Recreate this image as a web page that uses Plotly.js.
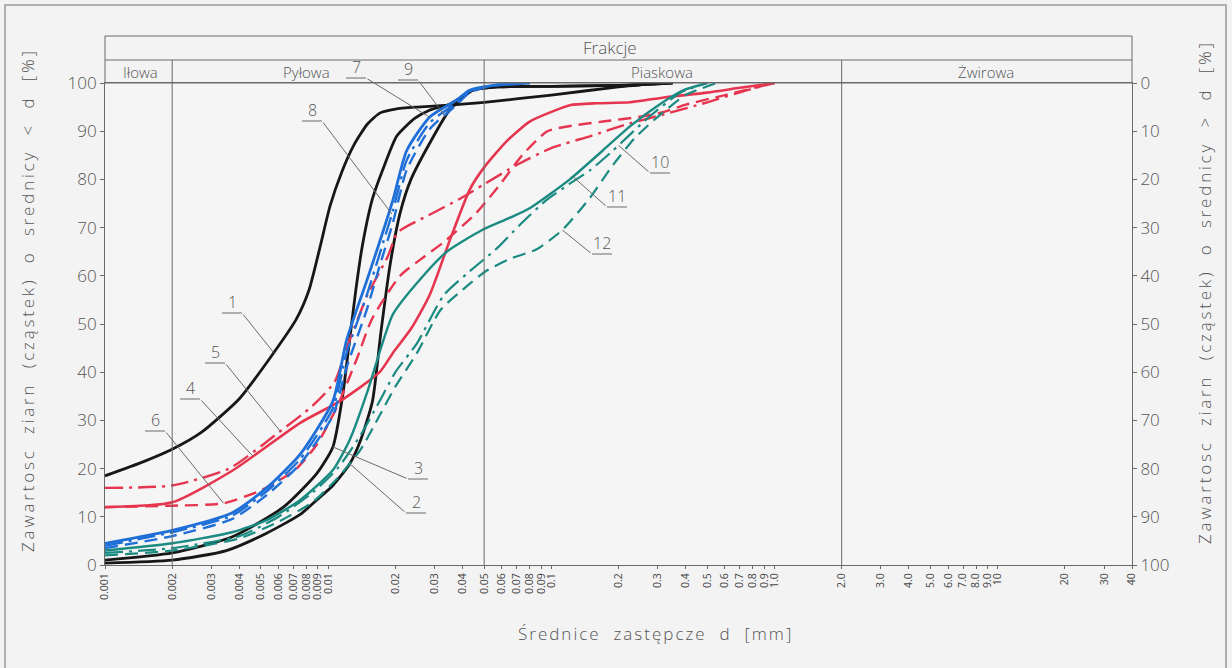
<!DOCTYPE html>
<html><head><meta charset="utf-8">
<script src="https://cdn.plot.ly/plotly-3.0.1.min.js"></script>
<style>html,body{margin:0;padding:0;background:#f3f3f3;}#chart{width:1232px;height:668px;}</style>
</head><body><div id="chart"></div>
<script>
// ---------- DATA (grain diameter d [mm], cumulative content < d [%]) ----------
const d1 = [0.001,0.0015,0.002,0.0027,0.004,0.0055,0.0072,0.0082,0.0092,0.0102,0.0115,0.013,0.015,0.0171,0.02,0.025,0.032,0.05,0.1,0.2,0.3];
const p1 = [18.5,21.5,24,27.5,34.5,43,51,57,66,74.5,81.5,87,91.5,93.8,94.6,95,95.3,96,97.5,99.2,100];
const d2 = [0.001,0.002,0.0035,0.0053,0.0075,0.0089,0.0105,0.0125,0.014,0.0158,0.0172,0.0189,0.021,0.0235,0.0285,0.035,0.0445,0.058,0.1,0.2,0.35];
const p2 = [0.4,1,3,6.6,10.5,13.5,16.5,21,26,34,48,62,73,80,87.5,94.4,98.5,99.2,99.3,99.5,100];
const d3 = [0.001,0.002,0.0037,0.0063,0.0089,0.0105,0.0116,0.0125,0.0133,0.0142,0.0158,0.0179,0.0203,0.0245,0.0286,0.035,0.0445,0.058,0.1,0.2,0.35];
const p3 = [1,2.5,5.8,12,19,24.5,35,47,57,66,76,83,89,92.7,94.4,95.6,98.5,99.2,99.3,99.5,100];
const d4 = [0.001,0.002,0.0037,0.0075,0.0113,0.017,0.0195,0.0235,0.0285,0.0351,0.0432,0.05,0.0633,0.08,0.1,0.121,0.16,0.225,0.32,0.5,0.7,1.0];
const p4 = [12,13,19.5,29.5,34,40,44,49,56,67.4,78,82.5,88,92,94,95.4,95.8,96,97,98,99,100];
const d5 = [0.001,0.002,0.0036,0.006,0.0085,0.0107,0.0121,0.015,0.0185,0.0205,0.028,0.039,0.05,0.07,0.1,0.15,0.22,0.32,0.5,0.75,1.0];
const p5 = [16,16.5,20,27.5,33,38,45,56,64,69,72.5,76,79,83,86.5,89,91.5,93.5,96,98.5,100];
const d6 = [0.001,0.002,0.0034,0.005,0.0071,0.0089,0.011,0.0135,0.0157,0.021,0.027,0.033,0.046,0.059,0.074,0.096,0.13,0.17,0.25,0.32,0.4,0.6,1.0];
const p6 = [12,12.3,12.8,15.5,19.7,25,33,43,51,60,64,67,73,79,85,90,91.3,92,93,94,95.5,97.5,100];
const d7 = [0.001,0.002,0.0037,0.0053,0.0075,0.0105,0.0121,0.0149,0.017,0.0195,0.0225,0.0286,0.0377,0.043,0.055,0.08];
const p7 = [4.5,7.2,10.8,16,23,34,46.7,59,67,75.7,86,93,96.5,98.5,99.5,100];
const d8 = [0.001,0.002,0.0037,0.0053,0.0075,0.0105,0.0121,0.0149,0.017,0.0195,0.0225,0.0286,0.0377,0.043,0.055,0.08];
const p8 = [4,6.8,10.2,15.3,22,32.5,44,56,64.5,73.5,84,91.8,96,98.3,99.5,100];
const d9 = [0.001,0.002,0.0037,0.0053,0.0075,0.0105,0.0121,0.0149,0.017,0.0195,0.0225,0.0286,0.0377,0.043,0.055,0.08];
const p9 = [3.5,6,9.5,14.5,21,31,41,53,62,71,82,90.5,95.5,98,99.5,100];
const d10 = [0.001,0.002,0.004,0.006,0.0085,0.011,0.014,0.017,0.02,0.025,0.033,0.042,0.058,0.072,0.095,0.12,0.15,0.189,0.275,0.38,0.5];
const p10 = [2.5,3.5,6,10,15,20,27,34,40,46,56,60.5,66,70.5,75.7,79,82,86,93,98,100];
const d11 = [0.001,0.002,0.0037,0.0053,0.0075,0.0105,0.0125,0.015,0.0175,0.0195,0.025,0.034,0.049,0.065,0.08,0.121,0.17,0.225,0.316,0.39,0.5];
const p11 = [3,4.5,6.8,9.3,13.5,19.7,26,36,46,52,58.5,65,69.5,72,74,80,86,91,96,98.5,100];
const d12 = [0.001,0.002,0.004,0.006,0.0085,0.011,0.014,0.017,0.02,0.025,0.032,0.041,0.051,0.065,0.086,0.112,0.148,0.189,0.237,0.307,0.4,0.55];
const p12 = [2,3,5.5,9,13,18,24,31,37,44,53,57.5,61,63.5,65.5,69.5,76,83,88.6,93.4,97.5,100];

const curveLabels = ['1','2','3','4','5','6','7','8','9','10','11','12'];
const fractionBounds = [0.002, 0.05, 2];
const fractionNames = ['Iłowa','Pyłowa','Piaskowa','Żwirowa'];
const tickVals = [0.001,0.002,0.003,0.004,0.005,0.006,0.007,0.008,0.009,0.01,0.02,0.03,0.04,0.05,0.06,0.07,0.08,0.09,0.1,0.2,0.3,0.4,0.5,0.6,0.7,0.8,0.9,1,2,3,4,5,6,7,8,9,10,20,30,40];
const tickText = ['0.001','0.002','0.003','0.004','0.005','0.006','0.007','0.008','0.009','0.01','0.02','0.03','0.04','0.05','0.06','0.07','0.08','0.09','0.1','0.2','0.3','0.4','0.5','0.6','0.7','0.8','0.9','1.0','2.0','3.0','4.0','5.0','6.0','7.0','8.0','9.0','10','20','30','40'];
const yTicks = [0,10,20,30,40,50,60,70,80,90,100];

// ---------- STYLE ----------
const BLACK='#171717', BLUE='#1f6fd8', RED='#e6364f', TEAL='#1b8b82';
const DASH='13px,7px', DASHDOT='18px,6px,3px,6px';
const series = [
  {d:d1,p:p1,c:BLACK,w:2.8,dash:'solid'},
  {d:d2,p:p2,c:BLACK,w:2.8,dash:'solid'},
  {d:d3,p:p3,c:BLACK,w:2.8,dash:'solid'},
  {d:d4,p:p4,c:RED,w:2.6,dash:'solid'},
  {d:d5,p:p5,c:RED,w:2.4,dash:DASHDOT},
  {d:d6,p:p6,c:RED,w:2.4,dash:DASH},
  {d:d7,p:p7,c:BLUE,w:2.8,dash:'solid'},
  {d:d8,p:p8,c:BLUE,w:2.4,dash:DASHDOT},
  {d:d9,p:p9,c:BLUE,w:2.4,dash:DASH},
  {d:d10,p:p10,c:TEAL,w:2.2,dash:DASHDOT},
  {d:d11,p:p11,c:TEAL,w:2.4,dash:'solid'},
  {d:d12,p:p12,c:TEAL,w:2.2,dash:DASH}
];

const W=1232,H=668,X0=105,X1=1132,YT=83,YB=565;
const LMIN=-3, LMAX=Math.log10(40);
const dToPx = d => X0 + (Math.log10(d)-LMIN)/(LMAX-LMIN)*(X1-X0);
const pToPy = p => YB - p/100*(YB-YT);
const pxX = px => (px-X0)/(X1-X0);
const pyY = py => (YB-py)/(YB-YT);
function interp(ds, ps, d){
  const l = Math.log10(d);
  for(let i=0;i<ds.length-1;i++){
    const a=Math.log10(ds[i]), b=Math.log10(ds[i+1]);
    if(l>=a && l<=b){ return ps[i]+(ps[i+1]-ps[i])*(l-a)/(b-a); }
  }
  return ps[ps.length-1];
}

const traces = series.map((s,i)=>({
  type:'scatter', mode:'lines', x:s.d, y:s.p, name:curveLabels[i],
  line:{color:s.c,width:s.w,dash:s.dash,shape:'spline',smoothing:0.6},
  hoverinfo:'skip', showlegend:false
}));
traces.push({type:'scatter',x:[],y:[],yaxis:'y2',showlegend:false,hoverinfo:'skip'});

const FONT = {family:'"Open Sans", "DejaVu Sans", sans-serif', color:'#555', weight:300};
const GREY='#6a6a6a';

// label placement (pixel positions of the number, target d on its curve, side of leader)
const labelPlace = [
  {i:0,  d:0.0057, lx:232, ly:302, side:1},
  {i:1,  d:0.0125, lx:416, ly:502, side:-1},
  {i:2,  d:0.0105, lx:418, ly:468, side:-1},
  {i:3,  d:0.0046, lx:190, ly:388, side:1},
  {i:4,  d:0.0061, lx:215, ly:352, side:1},
  {i:5,  d:0.0034, lx:155, ly:420, side:1},
  {i:6,  d:0.0285, lx:356, ly:67,  side:1},
  {i:7,  d:0.0193, lx:312, ly:110, side:1},
  {i:8,  d:0.0333, lx:408, ly:69,  side:1},
  {i:9,  d:0.2,    lx:660, ly:162, side:-1},
  {i:10, d:0.125,  lx:617, ly:196, side:-1},
  {i:11, d:0.112,  lx:602, ly:243, side:-1}
];

const annotations = [];
const shapes = [];
function txt(px, py, text, size, extra){
  return Object.assign({xref:'paper',yref:'paper',x:pxX(px),y:pyY(py),text:text,showarrow:false,
    xanchor:'center',yanchor:'middle',font:Object.assign({},FONT,{size:size})}, extra||{});
}
labelPlace.forEach(L=>{
  const s = series[L.i];
  const p = interp(s.d, s.p, L.d);
  const hx = dToPx(L.d), hy = pToPy(p);
  const uy = L.ly + 11;
  const tailX = L.lx + 10*L.side;
  annotations.push(txt(L.lx, L.ly, curveLabels[L.i], 16));
  shapes.push({type:'line',xref:'paper',yref:'paper',x0:pxX(L.lx-10),x1:pxX(L.lx+10),y0:pyY(uy),y1:pyY(uy),
    line:{color:GREY,width:1}});
  annotations.push({xref:'x',yref:'y',x:Math.log10(L.d),y:p,text:'',showarrow:true,arrowhead:0,
    arrowwidth:1,arrowcolor:GREY,standoff:0,ax:tailX-hx,ay:uy-hy});
});

// header table
const yH0 = pyY(36), yH1 = pyY(60);
shapes.push({type:'rect',xref:'paper',yref:'paper',x0:0,x1:1,y0:1,y1:yH0,line:{color:GREY,width:1}});
shapes.push({type:'line',xref:'paper',yref:'paper',x0:0,x1:1,y0:yH1,y1:yH1,line:{color:GREY,width:1}});
fractionBounds.forEach(b=>{
  const x = pxX(dToPx(b));
  shapes.push({type:'line',xref:'paper',yref:'paper',x0:x,x1:x,y0:0,y1:yH1,line:{color:GREY,width:1}});
});
// scan frame
shapes.push({type:'rect',xref:'paper',yref:'paper',x0:pxX(5),x1:pxX(1226),y0:pyY(5),y1:pyY(720),line:{color:'#9a9a9a',width:1.5}});

annotations.push(txt(610, 47, 'Frakcje', 17));
const namePx = [140, 306, 662, 986];
fractionNames.forEach((n,k)=>{ annotations.push(txt(namePx[k], 72, n, 15)); });
annotations.push(txt(655, 633, '<span style="letter-spacing:2px">Średnice  zastępcze  d  [mm]</span>', 17));
annotations.push(txt(27, 300, '<span style="letter-spacing:2.8px">Zawartosc  ziarn  (cząstek)  o  srednicy  <  d  [%]</span>', 17, {textangle:-90}));
annotations.push(txt(1204, 292, '<span style="letter-spacing:2.8px">Zawartosc  ziarn  (cząstek)  o  srednicy  >  d  [%]</span>', 17, {textangle:-90}));

const layout = {
  width:W, height:H,
  margin:{l:X0, r:W-X1, t:YT, b:H-YB, pad:0},
  paper_bgcolor:'#f3f3f3', plot_bgcolor:'#f5f5f5',
  showlegend:false, hovermode:false,
  xaxis:{type:'log', range:[LMIN,LMAX], tickvals:tickVals, ticktext:tickText, tickangle:-90,
    tickfont:Object.assign({},FONT,{size:10.5,color:'#444',weight:400}), ticks:'outside', ticklen:3, tickcolor:GREY,
    showgrid:false, zeroline:false, showline:true, linecolor:GREY, linewidth:1, mirror:true},
  yaxis:{range:[0,100], tickvals:yTicks, tickfont:Object.assign({},FONT,{size:17}),
    ticks:'outside', ticklen:4, tickcolor:GREY, showgrid:false, zeroline:false,
    showline:true, linecolor:GREY, linewidth:1, mirror:true},
  yaxis2:{overlaying:'y', side:'right', range:[100,0], tickvals:yTicks,
    tickfont:Object.assign({},FONT,{size:17}), ticks:'outside', ticklen:4, tickcolor:GREY,
    showgrid:false, zeroline:false, showline:false},
  shapes:shapes, annotations:annotations
};
Plotly.newPlot('chart', traces, layout, {staticPlot:true, displayModeBar:false});
</script></body></html>
